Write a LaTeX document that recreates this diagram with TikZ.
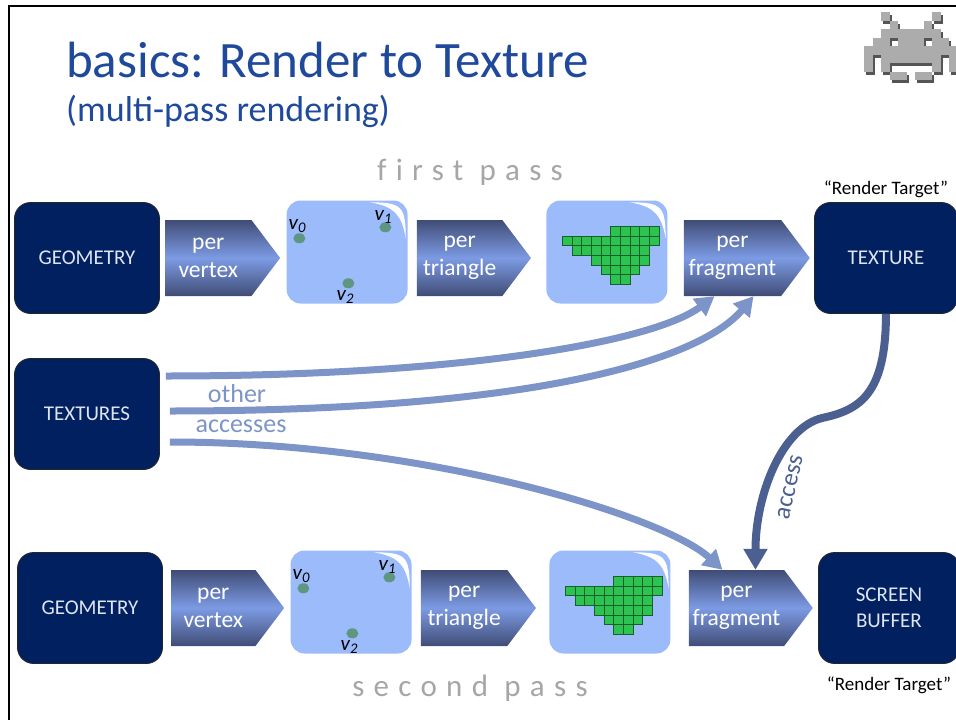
\documentclass[tikz,border=0pt]{standalone}
\usepackage{fontspec}
\setmainfont{Carlito}
\newfontfamily\spacedfont[LetterSpace=30,Ligatures=NoCommon]{Carlito}
\usetikzlibrary{arrows.meta,positioning,shapes.symbols,shapes.geometric}

\definecolor{navy}{RGB}{0,32,96}
\definecolor{boxtext}{RGB}{222,228,240}
\definecolor{titleblue}{RGB}{31,73,155}
\definecolor{paleblue}{RGB}{155,187,250}
\definecolor{steel}{RGB}{125,148,200}
\definecolor{darksteel}{RGB}{75,95,145}
\definecolor{chevdark}{RGB}{64,76,118}
\definecolor{chevlight}{RGB}{125,155,228}
\definecolor{dotgreen}{RGB}{95,150,130}
\definecolor{fraggreen}{RGB}{45,195,80}
\definecolor{fragedge}{RGB}{25,95,45}
\definecolor{passgray}{RGB}{166,166,166}
\definecolor{alienface}{RGB}{172,172,172}
\definecolor{alienshade}{RGB}{85,85,85}

% rows of the pixel alien: row/columns
\newcommand\alienrows{0/{2,8},1/{3,7},2/{2,3,4,5,6,7,8},3/{1,2,4,5,6,8,9},4/{0,1,2,3,4,5,6,7,8,9,10},5/{0,2,3,4,5,6,7,8,10},6/{0,2,8,10},7/{3,4,6,7}}

\begin{document}
\begin{tikzpicture}[
  x=1pt,y=-1pt,
  stage/.style={draw=black!85,line width=0.8pt,fill=navy,rounded corners=16pt,minimum width=145pt,minimum height=111pt,text=boxtext,align=center,font=\fontsize{21}{26}\selectfont},
  chev/.style={signal,signal to=east,signal pointer angle=106,minimum width=115pt,minimum height=76pt,inner sep=0pt,top color=chevdark,bottom color=chevdark,middle color=chevlight,text=white,align=center,font=\fontsize{23.5}{28}\selectfont},
  pale/.style={fill=paleblue,rounded corners=14pt,minimum width=121pt,minimum height=103pt},
  vdot/.style={ellipse,fill=dotgreen,minimum width=12pt,minimum height=10pt,inner sep=0pt},
  vlab/.style={inner sep=0pt,font=\fontsize{21}{21}\selectfont\itshape},
  cell/.style={fill=fraggreen,draw=fragedge,line width=0.7pt},
  flow/.style={line width=7pt,draw=steel,-{Triangle[width=21pt,length=19pt]}},
  access/.style={line width=8pt,draw=darksteel,-{Triangle[width=23pt,length=21pt]}},
  rt/.style={font=\fontsize{19}{22}\selectfont},
  pass/.style={text=passgray,font=\spacedfont\fontsize{31}{31}\selectfont},
  side/.style={text=steel,font=\fontsize{26}{26}\selectfont}
]
\useasboundingbox (0,0) rectangle (956,720);
\draw[line width=2.5pt] (9,720) -- (9,6) -- (956,6);

% heading
\node[anchor=base west,inner sep=0pt,text=titleblue,font=\fontsize{51}{51}\selectfont] (title) at (66,77) {basics: Render to Texture};
\node[anchor=base west,inner sep=0pt,text=titleblue,font=\fontsize{36}{36}\selectfont] (subtitle) at (66,121) {(multi-pass rendering)};

% pixel alien
\begin{scope}[shift={(864,12)}]
  \foreach \r/\cs in \alienrows
    \foreach \c in \cs
      \fill[alienshade] (\c*8.5+2,\r*8.5+3) rectangle ++(8.5,8.5);
  \foreach \r/\cs in \alienrows
    \foreach \c in \cs
      \fill[alienface] (\c*8.5,\r*8.5) rectangle ++(8.5,8.5);
\end{scope}

% first pass
\node[pass] (pass1) at (470,172) {first pass};
\node[stage] (geo1) at (87,258) {GEOMETRY};
\node[chev,right=5pt of geo1] (vtx1) {per\\vertex};
\node[pale,right=6pt of vtx1,yshift=6pt] (vb1) {};
\node[chev,right=9pt of vb1,yshift=-6pt,minimum width=114pt] (tri1) {per\\triangle};
\node[pale,right=15pt of tri1,yshift=6pt] (tb1) {};
\node[chev,right=16pt of tb1,yshift=-6pt,minimum width=126pt] (frag1) {per\\fragment};
\node[stage,right=4pt of frag1,minimum width=143pt] (tex) {TEXTURE};
\node[rt,above=1pt of tex] (rt1) {“Render Target”};

% second pass
\node[stage] (geo2) at (90,608) {GEOMETRY};
\node[chev,right=8pt of geo2,minimum width=113pt] (vtx2) {per\\vertex};
\node[pale,right=6pt of vtx2,yshift=6pt] (vb2) {};
\node[chev,right=9pt of vb2,yshift=-6pt] (tri2) {per\\triangle};
\node[pale,right=13pt of tri2,yshift=6pt] (tb2) {};
\node[chev,right=18pt of tb2,yshift=-6pt,minimum width=124pt] (frag2) {per\\fragment};
\node[stage,right=5pt of frag2,minimum width=141pt] (scr) {SCREEN\\BUFFER};
\node[rt,below=9pt of scr] (rt2) {“Render Target”};
\node[pass] (pass2) at (470,688) {second pass};

% gloss on the light panels
\foreach \b in {vb1,tb1,vb2,tb2}
  \fill[white] ([xshift=-38pt,yshift=-2pt]\b.north east) .. controls ([xshift=-6pt,yshift=-2pt]\b.north east) and ([xshift=-2pt,yshift=-6pt]\b.north east) .. ([xshift=-2pt,yshift=-38pt]\b.north east) .. controls ([xshift=-6pt,yshift=-14pt]\b.north east) and ([xshift=-14pt,yshift=-6pt]\b.north east) .. cycle;

% vertices
\foreach \b in {vb1,vb2} {
  \begin{scope}[shift={(\b.north west)}]
    \node[vdot] (\b-d0) at (13,38) {};
    \node[vdot] (\b-d1) at (99,27) {};
    \node[vdot] (\b-d2) at (62,83) {};
    \node[vlab] (\b-l0) at (11,26) {v\textsubscript{0}};
    \node[vlab] (\b-l1) at (97,17) {v\textsubscript{1}};
    \node[vlab] (\b-l2) at (59,97) {v\textsubscript{2}};
  \end{scope}
}

% rasterized triangle
\foreach \b in {tb1,tb2} {
  \begin{scope}[shift={(\b.north west)}]
    \foreach \r/\a/\e in {0/5/10,1/0/10,2/1/9,3/3/9,4/4/8,5/5/7} {
      \pgfmathtruncatemacro\last{\e-1}
      \foreach \c in {\a,...,\last}
        \draw[cell] (16+\c*9.7,26+\r*9.7) rectangle ++(9.7,9.7);
    }
  \end{scope}
}

% texture reads
\node[stage] (texs) at (87,414) {TEXTURES};
\node[side] (other) at (237,394) {other};
\node[side] (accs) at (241,426) {accesses};
\draw[flow] ([xshift=6pt,yshift=38pt]texs.east) .. controls +(300,0) and +(-60,45) .. ([xshift=-18pt]frag1.south);
\draw[flow] ([xshift=10pt,yshift=3pt]texs.east) .. controls +(380,0) and +(-50,60) .. ([xshift=21pt]frag1.south);
\draw[flow] ([xshift=10pt,yshift=-28pt]texs.east) .. controls +(250,0) and +(-60,-55) .. ([xshift=-14pt]frag2.north);

\coordinate (bend) at (822,418);
\draw[access] (tex.south) .. controls +(0,80) and +(38,-8) .. (bend) .. controls +(-40,10) and +(0,-75) .. ([xshift=19pt]frag2.north);
\node[rotate=77,text=darksteel,font=\fontsize{25}{25}\selectfont] (acclab) at (790,487) {access};
\end{tikzpicture}
\end{document}
